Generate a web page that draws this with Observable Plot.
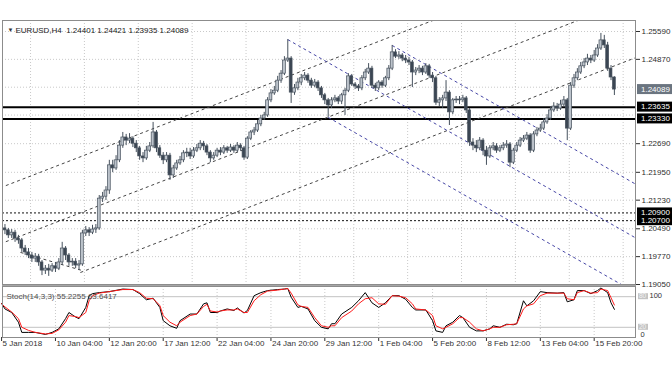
<!DOCTYPE html>
<html><head><meta charset="utf-8">
<script src="https://cdn.jsdelivr.net/npm/d3@7"></script>
<script src="https://cdn.jsdelivr.net/npm/@observablehq/plot@0.6"></script>
<style>
html,body{margin:0;padding:0;background:#fff;}
#chart{position:relative;width:672px;height:372px;overflow:hidden;}
#chart svg{position:absolute;left:0;}
#sep{position:absolute;left:2px;width:634px;top:284px;height:3px;background:#a6a6a6;}
</style></head><body><div id="chart"><div id="sep"></div></div>
<script>
// ---------- data ----------
const symbolTitle = "EURUSD,H4";
const lastQuote = ["1.24401", "1.24421", "1.23935", "1.24089"];
const stochTitle = "Stoch(14,3,3) 55.2255 63.6417";

const openP = [1.2065,1.2050,1.2045,1.2032,1.2039,1.2024,1.2019,1.1998,1.1988,1.1980,
 1.1972,1.1977,1.1962,1.1941,1.1946,1.1941,1.1952,1.1946,1.1962,1.1998,
 1.1980,1.1962,1.1964,1.1954,1.1957,1.2037,1.2045,1.2039,1.2047,1.2050,
 1.2127,1.2132,1.2148,1.2213,1.2205,1.2226,1.2264,1.2285,1.2277,1.2282,
 1.2269,1.2257,1.2236,1.2231,1.2251,1.2262,1.2298,1.2257,1.2238,1.2226,
 1.2238,1.2187,1.2205,1.2218,1.2226,1.2244,1.2246,1.2236,1.2251,1.2257,
 1.2269,1.2262,1.2246,1.2231,1.2238,1.2251,1.2246,1.2257,1.2251,1.2259,
 1.2251,1.2264,1.2257,1.2233,1.2282,1.2298,1.2303,1.2319,1.2334,1.2342,
 1.2381,1.2399,1.2406,1.2432,1.2450,1.2484,1.2489,1.2401,1.2412,1.2427,
 1.2438,1.2445,1.2432,1.2419,1.2427,1.2412,1.2394,1.2381,1.2368,1.2381,
 1.2386,1.2378,1.2394,1.2406,1.2443,1.2422,1.2417,1.2412,1.2438,1.2453,
 1.2463,1.2419,1.2412,1.2427,1.2419,1.2438,1.2463,1.2505,1.2494,1.2497,
 1.2489,1.2484,1.2479,1.2453,1.2458,1.2463,1.2453,1.2469,1.2445,1.2438,
 1.2375,1.2381,1.2386,1.2401,1.2350,1.2381,1.2383,1.2381,1.2386,1.2355,
 1.2272,1.2264,1.2257,1.2277,1.2251,1.2236,1.2257,1.2262,1.2251,1.2257,
 1.2264,1.2267,1.2220,1.2251,1.2264,1.2277,1.2282,1.2290,1.2251,1.2293,
 1.2303,1.2308,1.2324,1.2334,1.2355,1.2365,1.2360,1.2370,1.2381,1.2308,
 1.2419,1.2438,1.2453,1.2469,1.2479,1.2489,1.2484,1.2497,1.2515,1.2536,
 1.2523,1.2463,1.24401];

const highP = [1.2081,1.2060,1.2050,1.2047,1.2045,1.2032,1.2024,1.2006,1.1998,1.1988,
 1.1985,1.1983,1.1967,1.1954,1.1957,1.1959,1.1962,1.1972,1.2014,1.2003,
 1.1985,1.1972,1.1972,1.1967,1.2045,1.2055,1.2052,1.2058,1.2060,1.2135,
 1.2143,1.2158,1.2226,1.2226,1.2238,1.2277,1.2298,1.2293,1.2295,1.2287,
 1.2277,1.2262,1.2246,1.2262,1.2272,1.2324,1.2303,1.2264,1.2246,1.2246,
 1.2244,1.2213,1.2226,1.2236,1.2251,1.2257,1.2257,1.2259,1.2267,1.2277,
 1.2275,1.2267,1.2251,1.2246,1.2257,1.2259,1.2264,1.2262,1.2267,1.2264,
 1.2272,1.2269,1.2262,1.2287,1.2303,1.2311,1.2329,1.2342,1.2350,1.2388,
 1.2409,1.2417,1.2443,1.2458,1.2494,1.2538,1.2494,1.2422,1.2438,1.2448,
 1.2453,1.2450,1.2438,1.2435,1.2432,1.2417,1.2399,1.2386,1.2388,1.2394,
 1.2391,1.2399,1.2412,1.2450,1.2448,1.2427,1.2422,1.2445,1.2461,1.2476,
 1.2469,1.2425,1.2432,1.2432,1.2443,1.2471,1.2523,1.2512,1.2507,1.2502,
 1.2497,1.2492,1.2484,1.2466,1.2471,1.2469,1.2476,1.2474,1.2453,1.2443,
 1.2388,1.2394,1.2432,1.2406,1.2386,1.2391,1.2391,1.2394,1.2391,1.2360,
 1.2282,1.2277,1.2285,1.2282,1.2262,1.2264,1.2272,1.2269,1.2264,1.2272,
 1.2277,1.2272,1.2257,1.2272,1.2285,1.2290,1.2298,1.2295,1.2300,1.2311,
 1.2319,1.2334,1.2344,1.2365,1.2375,1.2373,1.2381,1.2391,1.2386,1.2427,
 1.2448,1.2463,1.2479,1.2489,1.2500,1.2497,1.2510,1.2525,1.2554,1.2549,
 1.2531,1.2471,1.24421];

const lowP = [1.2039,1.2034,1.2024,1.2024,1.2014,1.2009,1.1988,1.1980,1.1972,1.1962,
 1.1962,1.1952,1.1928,1.1931,1.1926,1.1936,1.1936,1.1941,1.1954,1.1967,
 1.1952,1.1952,1.1946,1.1941,1.1952,1.2029,1.2029,1.2034,1.2037,1.2045,
 1.2117,1.2122,1.2138,1.2194,1.2200,1.2220,1.2257,1.2264,1.2269,1.2259,
 1.2246,1.2226,1.2220,1.2226,1.2246,1.2257,1.2246,1.2231,1.2215,1.2220,
 1.2174,1.2179,1.2200,1.2213,1.2220,1.2233,1.2228,1.2231,1.2246,1.2251,
 1.2251,1.2238,1.2220,1.2226,1.2233,1.2238,1.2241,1.2244,1.2246,1.2244,
 1.2246,1.2249,1.2226,1.2228,1.2277,1.2290,1.2298,1.2313,1.2329,1.2337,
 1.2375,1.2394,1.2401,1.2425,1.2445,1.2479,1.2373,1.2394,1.2406,1.2419,
 1.2432,1.2425,1.2412,1.2414,1.2404,1.2386,1.2370,1.2337,1.2360,1.2375,
 1.2370,1.2370,1.2342,1.2401,1.2417,1.2409,1.2404,1.2406,1.2432,1.2448,
 1.2412,1.2404,1.2406,1.2412,1.2414,1.2432,1.2458,1.2489,1.2487,1.2481,
 1.2476,1.2471,1.2414,1.2445,1.2450,1.2445,1.2448,1.2438,1.2427,1.2368,
 1.2365,1.2360,1.2378,1.2316,1.2344,1.2373,1.2370,1.2375,1.2347,1.2262,
 1.2251,1.2246,1.2251,1.2238,1.2213,1.2231,1.2251,1.2244,1.2246,1.2251,
 1.2257,1.2207,1.2215,1.2246,1.2259,1.2272,1.2277,1.2244,1.2246,1.2287,
 1.2298,1.2303,1.2319,1.2329,1.2350,1.2352,1.2355,1.2363,1.2277,1.2303,
 1.2412,1.2432,1.2448,1.2463,1.2471,1.2476,1.2479,1.2492,1.2510,1.2515,
 1.2456,1.2432,1.23935];

const closeP = [1.2050,1.2045,1.2032,1.2039,1.2024,1.2019,1.1998,1.1988,1.1980,1.1972,
 1.1977,1.1962,1.1941,1.1946,1.1941,1.1952,1.1946,1.1962,1.1998,1.1980,
 1.1962,1.1964,1.1954,1.1957,1.2037,1.2045,1.2039,1.2047,1.2050,1.2127,
 1.2132,1.2148,1.2213,1.2205,1.2226,1.2264,1.2285,1.2277,1.2282,1.2269,
 1.2257,1.2236,1.2231,1.2251,1.2262,1.2298,1.2257,1.2238,1.2226,1.2238,
 1.2187,1.2205,1.2218,1.2226,1.2244,1.2246,1.2236,1.2251,1.2257,1.2269,
 1.2262,1.2246,1.2231,1.2238,1.2251,1.2246,1.2257,1.2251,1.2259,1.2251,
 1.2264,1.2257,1.2233,1.2282,1.2298,1.2303,1.2319,1.2334,1.2342,1.2381,
 1.2399,1.2406,1.2432,1.2450,1.2484,1.2489,1.2401,1.2412,1.2427,1.2438,
 1.2445,1.2432,1.2419,1.2427,1.2412,1.2394,1.2381,1.2368,1.2381,1.2386,
 1.2378,1.2394,1.2406,1.2443,1.2422,1.2417,1.2412,1.2438,1.2453,1.2463,
 1.2419,1.2412,1.2427,1.2419,1.2438,1.2463,1.2505,1.2494,1.2497,1.2489,
 1.2484,1.2479,1.2453,1.2458,1.2463,1.2453,1.2469,1.2445,1.2438,1.2375,
 1.2381,1.2386,1.2401,1.2350,1.2381,1.2383,1.2381,1.2386,1.2355,1.2272,
 1.2264,1.2257,1.2277,1.2251,1.2236,1.2257,1.2262,1.2251,1.2257,1.2264,
 1.2267,1.2220,1.2251,1.2264,1.2277,1.2282,1.2290,1.2251,1.2293,1.2303,
 1.2308,1.2324,1.2334,1.2355,1.2365,1.2360,1.2370,1.2381,1.2308,1.2419,
 1.2438,1.2453,1.2469,1.2479,1.2489,1.2484,1.2497,1.2515,1.2536,1.2523,
 1.2463,1.24401,1.24089];

const xTickBars = [0,16,32,48,64,80,96,112,128,144,160,176];
const xTickLabels = ["5 Jan 2018","10 Jan 04:00","12 Jan 20:00","17 Jan 12:00","22 Jan 04:00","24 Jan 20:00",
  "29 Jan 12:00","1 Feb 04:00","5 Feb 20:00","8 Feb 12:00","13 Feb 04:00","15 Feb 20:00"];
const mainGridBars = [8.6,24.6,40.6,56.6,72.6,88.6,104.6,120.6,136.6,152.6,168.6,184.6];
const priceTicks = [1.25590,1.24870,1.24150,1.23430,1.22690,1.21950,1.21230,1.20490,1.19770,1.19050];
const priceTickLabels = [1.25590,1.24870,1.22690,1.21950,1.21230,1.20490,1.19770,1.19050];
const solidLevels = [1.23635, 1.23330];
const dottedLevels = [1.20900, 1.20700];
const currentPrice = 1.24089;

// channel lines: [bar, price] -> [bar, price]
const blackLines = [
  {x1: -0.4, y1: 1.2155, x2: 132.4, y2: 1.2602},
  {x1: -0.4, y1: 1.2010, x2: 174.9, y2: 1.2600},
  {x1: 23.4, y1: 1.1936, x2: 189.7, y2: 1.2496},
  {x1: 5.6,  y1: 1.1988, x2: 24.0,  y2: 1.1941}
];
const blueLines = [
  {x1: 85.0,  y1: 1.2538, x2: 189.8, y2: 1.2018},
  {x1: 116.0, y1: 1.2523, x2: 189.8, y2: 1.2157},
  {x1: 97.0,  y1: 1.2337, x2: 187.3, y2: 1.1889}
];

const stochBars = [0,1,3,5,6,8,10,13,15,17,19,20,22,23,25,26,27,29,32,36,39,41,43,45,47,48,50,52,53,56,58,60,61,62,64,65,67,69,70,72,73,75,77,79,82,84,85,86,88,89,91,93,95,97,98,99,101,104,106,108,110,112,114,116,118,120,122,123,126,128,129,131,132,134,136,137,139,141,143,145,146,148,150,152,153,155,156,158,160,162,165,167,168,170,171,173,175,177,178,180,181,182];
const stochMain = [67,56,49,30,10,10,10,6,10,17,37,49,40,37,59,82,86,88,90,95,94,86,74,77,59,33,23,18,33,46,46,66,68,49,49,52,56,53,58,48,53,82,88,92,94,95,96,79,59,61,56,33,20,17,27,27,46,59,72,88,68,59,68,82,82,75,59,54,54,33,13,10,23,30,43,39,20,13,13,17,23,20,26,25,27,72,62,72,90,88,87,88,70,74,92,92,86,92,97,88,68,55.2255];
const stochSignal = [66,60,50,37,20,14,10,7,8,15,30,43,41,39,49,72,82,87,90,94,94,88,77,76,63,43,30,23,30,43,46,61,65,52,50,52,54,54,56,49,49,72,84,91,93,95,96,87,64,61,59,39,23,20,23,23,39,52,66,76,78,66,65,82,81,78,66,56,54,43,23,17,20,27,39,39,30,17,13,17,20,20,25,26,27,56,62,66,82,87,87,87,76,74,88,92,87,88,95,92,78,63.6417];
const stochLevels = [20, 80];

// ---------- drawing ----------
const FONT = "'Liberation Sans', Arial, sans-serif";
const xDomain = [0.27, 188.27];
const candles = closeP.map((c, i) => ({i, o: openP[i], h: highP[i], l: lowP[i], c}));
const bullFill = "#bcc3cb", bearFill = "#3b4653", edge = "#46515d";
const gridColor = "#c9c9c9";

const main = Plot.plot({
  width: 672, height: 286,
  marginTop: 20, marginRight: 37, marginBottom: 2, marginLeft: 2,
  style: {fontFamily: FONT, fontSize: "8px", color: "#2e2e2e", background: "none", overflow: "visible"},
  x: {domain: xDomain, axis: null},
  y: {domain: [1.19050, 1.258743], axis: "right", ticks: priceTickLabels, tickFormat: d => d.toFixed(5), tickSize: 4, tickPadding: 2, label: null},
  marks: [
    Plot.ruleX(mainGridBars, {stroke: gridColor, strokeDasharray: "1,2", clip: true}),
    Plot.ruleY(priceTicks, {stroke: gridColor, strokeDasharray: "1,2"}),
    Plot.ruleY(dottedLevels, {stroke: "#111", strokeDasharray: "2,2"}),
    Plot.ruleY(solidLevels, {stroke: "#000", strokeWidth: 2}),
    Plot.link(blackLines, {x1: "x1", y1: "y1", x2: "x2", y2: "y2", stroke: "#454545", strokeDasharray: "3,3", clip: true}),
    Plot.link(blueLines, {x1: "x1", y1: "y1", x2: "x2", y2: "y2", stroke: "#4747a6", strokeDasharray: "3,3", clip: true}),
    Plot.ruleX(candles, {x: "i", y1: "l", y2: "h", stroke: edge, clip: true}),
    Plot.rect(candles, {x1: d => d.i - 0.42, x2: d => d.i + 0.42, y1: "o", y2: "c",
      fill: d => d.c >= d.o ? bullFill : bearFill, stroke: edge, strokeWidth: 0.7, clip: true}),
    Plot.frame({stroke: "#8c8c8c"}),
    Plot.text(["\u25BC"], {frameAnchor: "top-left", dx: 5, dy: 7, fontSize: 6, fill: "#333"}),
    Plot.text([symbolTitle + "  " + lastQuote.join(" ")], {frameAnchor: "top-left", dx: 13, dy: 7, textAnchor: "start", fontSize: 8, fill: "#222"})
  ]
});
main.style.top = "0px";

const stoch = stochBars.map((b, k) => ({b, m: stochMain[k], s: stochSignal[k]}));
const sub = Plot.plot({
  width: 672, height: 88,
  marginTop: 2, marginRight: 37, marginBottom: 35, marginLeft: 2,
  style: {fontFamily: FONT, fontSize: "8px", color: "#2e2e2e", background: "none", overflow: "visible"},
  x: {domain: xDomain, axis: "bottom", ticks: xTickBars, tickFormat: () => "", tickSize: 4, label: null},
  y: {domain: [0, 100], axis: null},
  marks: [
    Plot.ruleX(xTickBars, {stroke: gridColor, strokeDasharray: "1,2", clip: true}),
    Plot.ruleY(stochLevels, {stroke: "#c2c2c2"}),
    Plot.line(stoch, {x: "b", y: "m", stroke: "#000", strokeWidth: 1}),
    Plot.line(stoch, {x: "b", y: "s", stroke: "#ff1a1a", strokeWidth: 1}),
    Plot.frame({stroke: "#8c8c8c"}),
    Plot.text([stochTitle], {frameAnchor: "top-left", dx: 4, dy: 7, textAnchor: "start", fontSize: 8, fill: "#505050"}),
    Plot.text(xTickLabels, {x: (d, i) => xTickBars[i], text: d => d, frameAnchor: "bottom", dy: 8, dx: 1, textAnchor: "start", fontSize: 8, fill: "#333"}),
    Plot.text(["100"], {frameAnchor: "top-right", dx: 14, dy: 6, textAnchor: "start", fontSize: 7.5, fill: "#333"}),
    Plot.text(["0"], {frameAnchor: "bottom-right", dx: 5, dy: -1, textAnchor: "start", fontSize: 7.5, fill: "#333"})
  ]
});
sub.style.top = "284px";

// value boxes on the right scale, positioned with each plot's own y scale
function addBoxes(svg, items, x0, w, h, pad, fs) {
  const sy = svg.scale("y");
  const g = d3.select(svg).append("g")
    .attr("font-family", FONT).attr("font-size", fs).attr("text-anchor", "start");
  for (const it of items) {
    const y = sy.apply(it.value);
    g.append("rect").attr("x", x0).attr("y", y - h / 2).attr("width", w).attr("height", h).attr("fill", it.bg);
    g.append("text").attr("x", x0 + pad).attr("y", y).attr("dy", "0.35em")
      .attr("text-anchor", "start").attr("fill", it.fg).text(it.label);
  }
}
addBoxes(main, [
  {value: currentPrice, label: currentPrice.toFixed(5), bg: "#6b7580", fg: "#fff"},
  ...solidLevels.map(v => ({value: v, label: v.toFixed(5), bg: "#000", fg: "#fff"})),
  ...dottedLevels.map(v => ({value: v, label: v.toFixed(5), bg: "#000", fg: "#fff"}))
], 637, 35, 10, 4, 8);
addBoxes(sub, stochLevels.map(v => ({value: v, label: String(v), bg: "#c4c4c4", fg: "#f4f4f4"})), 638, 10, 6, 1, 6.5);

const root = document.getElementById("chart");
root.appendChild(main);
root.appendChild(sub);
</script>
</body></html>
